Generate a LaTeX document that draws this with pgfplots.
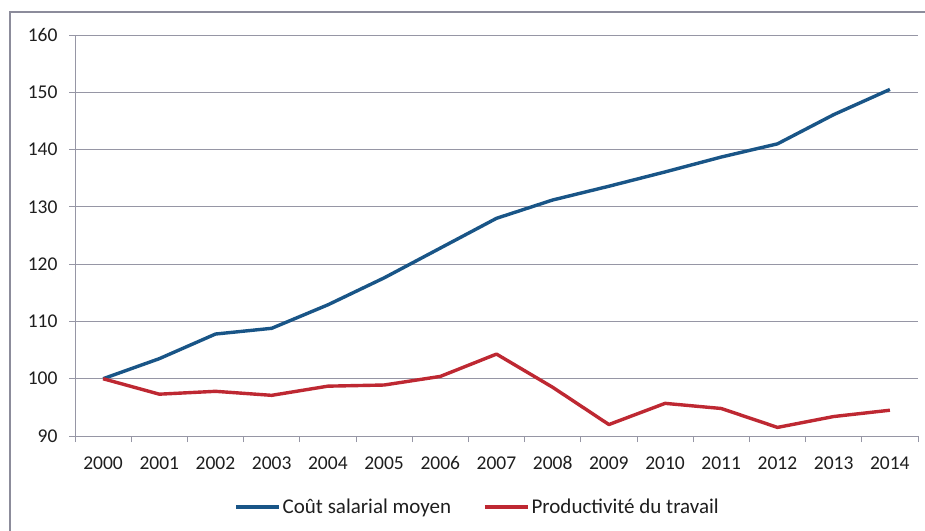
\documentclass[border=0pt]{standalone}
\usepackage{pgfplots}
\pgfplotsset{compat=1.18}
\usepackage{fontspec}
\setmainfont{Carlito}
\definecolor{cblue}{RGB}{25,85,135}
\definecolor{cred}{RGB}{190,40,50}
\definecolor{gridc}{RGB}{150,150,165}
\definecolor{framec}{RGB}{140,140,155}
\definecolor{txt}{RGB}{30,30,30}
\begin{document}
\begin{tikzpicture}
\useasboundingbox (0,0) rectangle (925pt,530pt);
\fill[white] (0,0) rectangle (925pt,530pt);
\draw[framec, line width=2pt] (10pt,-10pt) -- (10pt,518pt) -- (940pt,518pt);
\begin{axis}[
  at={(75pt,94pt)}, anchor=south west,
  width=843pt, height=401pt, scale only axis,
  xmin=1999.5, xmax=2014.5, ymin=90, ymax=160,
  xtick={2000,...,2014}, ytick={90,100,...,160},
  minor xtick={1999.5,2000.5,...,2014.5},
  axis x line*=bottom, axis y line*=left,
  axis line style={gridc, line width=1pt, -},
  ymajorgrids, grid style={gridc, line width=1pt},
  major x tick style={draw=none},
  minor x tick style={gridc, line width=1pt},
  major y tick style={gridc, line width=1pt},
  tick align=outside, major tick length=6pt, minor tick length=6pt,
  /pgf/number format/assume math mode=true,
  /pgf/number format/set thousands separator={},
  ticklabel style={font=\fontsize{19.5}{22}\selectfont, text=txt},
  xticklabel style={yshift=-11pt},
  yticklabel style={xshift=-8pt},
  legend columns=2,
  legend style={at={(0.4775,-0.177)}, anchor=center, draw=none, fill=none,
    font=\fontsize{21}{24}\selectfont, text=txt,
    /tikz/every even column/.append style={column sep=30pt}},
  legend image code/.code={\draw[#1] (0pt,0pt) -- (43pt,0pt);},
]
\addplot[cblue, line width=3.4pt, line join=round] coordinates {
(2000,100) (2001,103.5) (2002,107.8) (2003,108.8) (2004,112.9) (2005,117.6)
(2006,122.8) (2007,128.0) (2008,131.2) (2009,133.6) (2010,136.1) (2011,138.7)
(2012,141.0) (2013,146.1) (2014,150.5)};
\addlegendentry{Coût salarial moyen}
\addplot[cred, line width=3.4pt, line join=round] coordinates {
(2000,100) (2001,97.3) (2002,97.8) (2003,97.1) (2004,98.7) (2005,98.9)
(2006,100.4) (2007,104.3) (2008,98.5) (2009,92.0) (2010,95.7) (2011,94.8)
(2012,91.5) (2013,93.4) (2014,94.5)};
\addlegendentry{Productivité du travail}
\end{axis}
\end{tikzpicture}
\end{document}
